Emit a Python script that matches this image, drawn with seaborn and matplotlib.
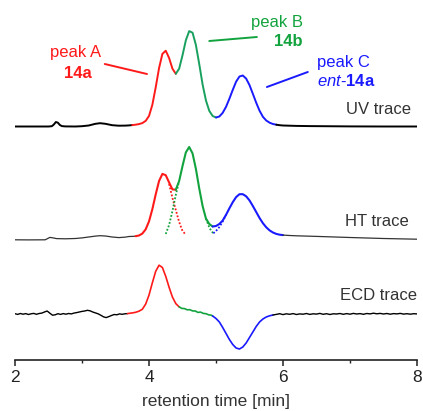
import matplotlib
matplotlib.use("Agg")
import matplotlib.pyplot as plt
import numpy as np
import seaborn as sns

# DATA (heights above each trace's own baseline)

uv_time = [2.0, 2.3, 2.5, 2.55, 2.58, 2.61, 2.64, 2.67, 2.70, 2.75, 2.9, 3.0, 3.1, 3.2, 3.27,
           3.35, 3.45, 3.55, 3.65, 3.70, 3.75, 3.80, 3.85, 3.90, 3.95, 4.00, 4.05, 4.10, 4.15,
           4.20, 4.25, 4.30, 4.35, 4.40, 4.45, 4.50, 4.55, 4.60, 4.65, 4.70, 4.75, 4.80, 4.85,
           4.90, 4.95, 5.00, 5.05, 5.10, 5.15, 5.20, 5.25, 5.30, 5.35, 5.40, 5.45, 5.50, 5.55,
           5.60, 5.65, 5.70, 5.75, 5.80, 5.85, 5.90, 5.95, 6.00, 6.1, 6.2, 6.4, 6.6, 7.0, 7.5, 8.0]
uv_signal = [0, 0, 0, 0.3, 2.0, 4.5, 3.8, 1.5, 0.4, 0.1, 0, 0.3, 1.0, 2.7, 3.3,
             2.7, 1.3, 0.8, 0.9, 1.1, 1.4, 1.8, 2.4, 3.4, 5.6, 10.5, 21.7, 39.1, 58.4,
             72.6, 75.8, 68.5, 57.8, 52.7, 57.8, 71.2, 86.2, 95.4, 93.8, 81.5, 62.4, 42.0, 26.0,
             15.6, 10.5, 9.0, 10.0, 13.7, 19.7, 27.8, 36.6, 44.8, 50.0, 51.0, 47.9, 41.4, 32.7,
             23.8, 15.8, 9.7, 6.0, 3.8, 2.5, 1.8, 1.3, 1.0, 0.8, 0.6, 0.4, 0.3, 0.1, 0, 0]

ht_time = [2.0, 2.2, 2.45, 2.48, 2.52, 2.56, 2.62, 2.75, 2.9, 3.0, 3.1, 3.2, 3.27, 3.35, 3.45,
           3.55, 3.65, 3.70, 3.75, 3.80, 3.85, 3.90, 3.95, 4.00, 4.05, 4.10, 4.15, 4.20, 4.25,
           4.30, 4.35, 4.40, 4.45, 4.50, 4.55, 4.60, 4.65, 4.70, 4.75, 4.80, 4.85, 4.90, 4.95,
           5.00, 5.05, 5.10, 5.15, 5.20, 5.25, 5.30, 5.35, 5.40, 5.45, 5.50, 5.55, 5.60, 5.65,
           5.70, 5.75, 5.80, 5.85, 5.90, 5.95, 6.00, 6.1, 6.2, 6.5, 7.0, 7.5, 8.0]
ht_signal = [0.2, 0.1, 0.2, 1.2, 2.6, 2.2, 1.4, 1.2, 1.5, 2.1, 3.0, 3.9, 4.3, 4.0, 3.0,
             2.4, 2.9, 3.5, 3.6, 3.8, 4.5, 6.4, 10.6, 18.6, 30.8, 45.6, 59.0, 66.1, 64.8,
             57.5, 50.6, 50.3, 59.0, 73.9, 87.6, 93.0, 86.6, 71.1, 51.5, 34.0, 21.4, 16.0, 13.5,
             14.0, 16.0, 19.5, 25.2, 31.7, 37.8, 42.9, 45.8, 45.8, 43.7, 39.6, 34.0, 28.0, 22.0,
             16.8, 12.7, 9.6, 7.5, 6.1, 5.3, 4.9, 4.5, 4.2, 3.6, 2.5, 1.5, 0.8]

# deconvoluted HT components (dotted)
ht_a_time = [4.30, 4.35, 4.40, 4.45, 4.50, 4.54]
ht_a_signal = [56, 42, 30, 18, 9, 6]
ht_b_left_time = [4.25, 4.30, 4.35, 4.40, 4.45]
ht_b_left_signal = [6, 15, 29, 45, 59]
ht_b_right_time = [4.85, 4.90, 4.93, 4.96]
ht_b_right_signal = [21.4, 12.5, 9, 6.7]
ht_c_time = [4.96, 5.00, 5.05, 5.10, 5.15]
ht_c_signal = [6.7, 9, 13, 18.5, 25.2]

ecd_time = [2.00, 2.04, 2.08, 2.12, 2.16, 2.20, 2.24, 2.28, 2.32, 2.36, 2.40, 2.44, 2.48, 2.52,
            2.56, 2.60, 2.64, 2.68, 2.72, 2.76, 2.80, 2.84, 2.88, 2.92, 2.96, 3.00, 3.04, 3.08,
            3.12, 3.16, 3.20, 3.24, 3.28, 3.32, 3.36, 3.40, 3.44, 3.48, 3.52, 3.56, 3.60, 3.64,
            3.68, 3.72, 3.76, 3.80, 3.85, 3.90, 3.95, 4.00, 4.05, 4.10, 4.15, 4.20, 4.25, 4.30,
            4.35, 4.40, 4.45, 4.49, 4.53, 4.57, 4.61, 4.65, 4.69, 4.73, 4.77, 4.81, 4.85, 4.89,
            4.93, 4.95, 5.00, 5.05, 5.10, 5.15, 5.20, 5.25, 5.30, 5.35, 5.40, 5.45, 5.50, 5.55,
            5.60, 5.65, 5.70, 5.75, 5.80, 5.85, 5.90, 5.95, 6.00, 6.05, 6.10, 6.15, 6.20, 6.25,
            6.30, 6.35, 6.40, 6.45, 6.50, 6.55, 6.60, 6.65, 6.70, 6.75, 6.80, 6.85, 6.90, 6.95,
            7.00, 7.05, 7.10, 7.15, 7.20, 7.25, 7.30, 7.35, 7.40, 7.45, 7.50, 7.55, 7.60, 7.65,
            7.70, 7.75, 7.80, 7.85, 7.90, 7.95, 8.00]
ecd_signal = [0.3, -0.4, 0.5, -0.2, 0.4, -0.5, 0.2, 0.6, -0.3, 0.5, 0.9, 2.0, 3.0, 0.8,
              -1.2, -0.8, 0.3, -0.4, 0.4, -0.2, 0.5, 0.1, 0.9, 1.4, 2.0, 2.6, 3.0, 3.7,
              3.2, 2.0, 1.1, 0.2, -1.2, -2.8, -3.6, -2.6, -1.5, -0.5, -0.8, 0.1, -0.3, 0.2,
              0.4, 0.8, 1.2, 1.7, 2.8, 4.7, 9.9, 18.9, 31.2, 42.7, 48.8, 46.5, 37.6, 26.7,
              16.9, 10.4, 7.1, 5.6, 5.4, 4.2, 4.3, 3.1, 3.0, 1.6, 1.9, 0.6, 0.3, -0.8,
              -1.2, -2.0, -4.5, -8.0, -13.5, -19.5, -25.5, -30.5, -34.0, -35.0, -33.0, -29.0, -23.5, -18.0,
              -12.5, -8.0, -5.0, -3.0, -1.8, -1.0, -0.4, 0.3, -0.6, 0.2, -0.3, 0.4, -0.5, 0.1,
              -0.2, 0.5, -0.4, 0.2, -0.1, 0.6, -0.3, 0.3, -0.5, 0.2, 0.0, 0.5, -0.3, 0.4,
              -0.2, 0.6, 0.0, 0.4, -0.3, 0.5, 0.1, 0.8, 0.2, 0.6, 0.0, 0.5, -0.2, 0.4,
              0.1, 0.6, -0.1, 0.3, -0.2, 0.3, 0.1]

# baselines of the stacked traces
uv_base, ht_base, ecd_base = 233.5, 120, 46

RED = "#ff1a1a"
GREEN_UV = "#18a05e"
GREEN = "#12a33e"
BLUE = "#1a1aff"
TXT = "#333333"

# PLOT

sns.set_style("white")
plt.rcParams["font.family"] = ["Liberation Sans", "DejaVu Sans"]
plt.rcParams["mathtext.fontset"] = "custom"
plt.rcParams["mathtext.it"] = "Liberation Sans:italic"
plt.rcParams["mathtext.bf"] = "Liberation Sans:bold"
plt.rcParams["mathtext.rm"] = "Liberation Sans"

fig = plt.figure(figsize=(4.23, 4.11), dpi=100)
ax = fig.add_axes([15 / 423, 51 / 411, 402 / 423, 360 / 411])


def draw(t, h, base, lo, hi, color, lw, ls="-"):
    t = np.asarray(t)
    h = np.asarray(h)
    m = (t >= lo - 1e-9) & (t <= hi + 1e-9)
    sns.lineplot(x=t[m], y=h[m] + base, ax=ax, color=color, lw=lw, ls=ls,
                 sort=False, estimator=None)


# UV trace
draw(uv_time, uv_signal, uv_base, 2.0, 3.75, "black", 1.4)
draw(uv_time, uv_signal, uv_base, 3.75, 4.40, RED, 1.4)
draw(uv_time, uv_signal, uv_base, 4.40, 5.00, GREEN_UV, 1.4)
draw(uv_time, uv_signal, uv_base, 5.00, 5.90, BLUE, 1.4)
draw(uv_time, uv_signal, uv_base, 5.90, 8.0, "black", 1.4)

# HT trace
dot = (0, (1, 1))
draw(ht_a_time, ht_a_signal, ht_base, 0, 9, RED, 1.3, dot)
draw(ht_b_left_time, ht_b_left_signal, ht_base, 0, 9, GREEN, 1.3, dot)
draw(ht_b_right_time, ht_b_right_signal, ht_base, 0, 9, GREEN, 1.3, dot)
draw(ht_c_time, ht_c_signal, ht_base, 0, 9, BLUE, 1.3, dot)
draw(ht_time, ht_signal, ht_base, 2.0, 3.80, "#333333", 0.9)
draw(ht_time, ht_signal, ht_base, 3.80, 4.40, RED, 1.5)
draw(ht_time, ht_signal, ht_base, 4.40, 4.95, GREEN, 1.5)
draw(ht_time, ht_signal, ht_base, 4.95, 6.00, BLUE, 1.5)
draw(ht_time, ht_signal, ht_base, 6.00, 8.0, "#333333", 0.9)

# ECD trace
draw(ecd_time, ecd_signal, ecd_base, 2.0, 3.68, "black", 1.0)
draw(ecd_time, ecd_signal, ecd_base, 3.68, 4.45, RED, 1.2)
draw(ecd_time, ecd_signal, ecd_base, 4.45, 4.95, GREEN, 1.2)
draw(ecd_time, ecd_signal, ecd_base, 4.95, 5.85, BLUE, 1.2)
draw(ecd_time, ecd_signal, ecd_base, 5.85, 8.0, "black", 1.0)

# labels
fs = 12
ax.text(2.91, 307, "peak A", color=RED, fontsize=fs, ha="center", va="center")
ax.text(2.94, 287, "14a", color=RED, fontsize=fs, fontweight="bold", ha="center", va="center")
ax.plot([3.34, 3.97], [296, 286], color=RED, lw=1.4)

ax.text(6.30, 338, "peak B", color=GREEN, fontsize=fs, ha="right", va="center")
ax.text(6.29, 318, "14b", color=GREEN, fontsize=fs, fontweight="bold", ha="right", va="center")
ax.plot([4.90, 5.61], [319, 323], color=GREEN, lw=1.4)

ax.text(6.50, 298, "peak C", color=BLUE, fontsize=fs, ha="left", va="center")
ax.text(6.51, 279, r"$\mathit{ent}$-$\mathbf{14a}$", color=BLUE, fontsize=fs,
        ha="left", va="center")
ax.plot([5.76, 6.37], [273, 288], color=BLUE, lw=1.4)

ax.text(7.91, 250, "UV trace", color=TXT, fontsize=fs, ha="right", va="center")
ax.text(7.88, 139, "HT trace", color=TXT, fontsize=fs, ha="right", va="center")
ax.text(8.0, 65, "ECD trace", color=TXT, fontsize=fs, ha="right", va="center")

# axes
ax.set_xlim(2, 8)
ax.set_ylim(0, 360)
ax.set_yticks([])
ax.set_xticks([2, 4, 6, 8])
ax.set_xticks([3, 5, 7], minor=True)
for s in ["left", "top", "right"]:
    ax.spines[s].set_visible(False)
ax.spines["bottom"].set_color("#222222")
ax.spines["bottom"].set_linewidth(1.2)
ax.tick_params(axis="x", which="major", direction="out", length=4, width=1.1,
               color="#222222", labelsize=12.5, labelcolor="#222222", pad=3,
               bottom=True)
ax.tick_params(axis="x", which="minor", direction="out", length=2.5, width=1.0,
               color="#222222", bottom=True)
ax.set_xlabel("retention time [min]", fontsize=12.5, color=TXT, labelpad=7)
ax.patch.set_alpha(0)

fig.savefig("out.png", dpi=100)
